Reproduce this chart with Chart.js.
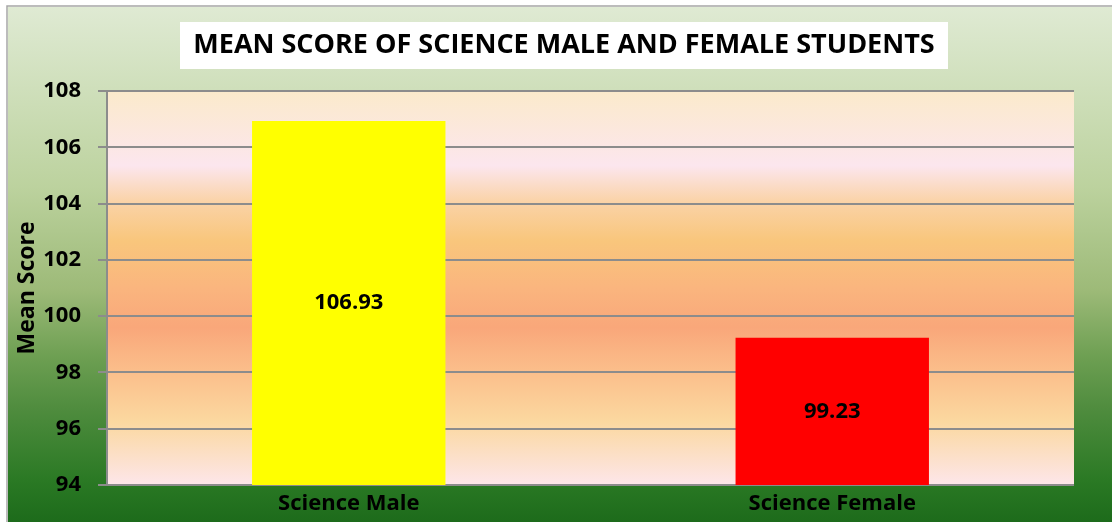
<!DOCTYPE html>
<html>
<head>
<meta charset="utf-8">
<script src="https://cdn.jsdelivr.net/npm/chart.js@4"></script>
<style>
  html, body { margin: 0; padding: 0; background: #fff; }
  #wrap { width: 1112px; height: 522px; position: relative; }
</style>
</head>
<body>
<div id="wrap"><canvas id="meanChart"></canvas></div>
<script>
const categories = ['Science Male', 'Science Female'];
const meanScores = [106.93, 99.23];
const barColors = ['#ffff00', '#ff0000'];
const yTicks = [94, 96, 98, 100, 102, 104, 106, 108];
const chartTitle = 'MEAN SCORE OF SCIENCE MALE AND FEMALE STUDENTS';

const FONT = '"Open Sans"';

// backgrounds: green frame, banded plot area, white box under the title
const backdrop = {
  id: 'backdrop',
  afterLayout(chart) {
    // title sits a bit right of the plot centre
    chart.titleBlock.left += 23;
    chart.titleBlock.right += 23;
  },
  beforeDraw(chart) {
    const {ctx, width, height, chartArea: a} = chart;
    ctx.save();
    let g = ctx.createLinearGradient(0, 7, 0, height);
    g.addColorStop(0, '#dfead3');
    g.addColorStop(0.35, '#bcd29e');
    g.addColorStop(0.55, '#9dba78');
    g.addColorStop(0.68, '#6d9f52');
    g.addColorStop(0.78, '#4f8c3e');
    g.addColorStop(0.92, '#2a7924');
    g.addColorStop(1, '#1d6b1b');
    ctx.fillStyle = g;
    ctx.fillRect(8, 7, width - 8, height - 7);
    ctx.strokeStyle = '#a6a6a6';
    ctx.lineWidth = 1.5;
    ctx.beginPath();
    ctx.moveTo(7, height); ctx.lineTo(7, 6); ctx.lineTo(width, 6);
    ctx.stroke();

    g = ctx.createLinearGradient(0, a.top, 0, a.bottom);
    g.addColorStop(0, '#fbeacb');
    g.addColorStop(0.19, '#fce6ee');
    g.addColorStop(0.28, '#fad3a8');
    g.addColorStop(0.38, '#f9c67c');
    g.addColorStop(0.5, '#fab57e');
    g.addColorStop(0.6, '#f9a77a');
    g.addColorStop(0.72, '#fbc08c');
    g.addColorStop(0.84, '#fbd8a0');
    g.addColorStop(1, '#fde6ea');
    ctx.fillStyle = g;
    ctx.fillRect(a.left, a.top, a.right - a.left, a.bottom - a.top);

    ctx.fillStyle = '#ffffff';
    ctx.fillRect(180, 22, 768, 47);
    ctx.restore();
  }
};

// value written in the middle of each bar
const barValues = {
  id: 'barValues',
  afterDraw(chart) {
    const {ctx} = chart;
    const x = chart.scales.x, y = chart.scales.y;
    ctx.save();
    ctx.font = 'bold 22px ' + FONT;
    ctx.fillStyle = '#000000';
    ctx.textAlign = 'center';
    ctx.textBaseline = 'middle';
    meanScores.forEach((v, i) => {
      const px = x.getPixelForValue(i);
      const py = (y.getPixelForValue(v) + y.getPixelForValue(y.min)) / 2;
      ctx.fillText(v.toFixed(2), px, py);
    });
    ctx.restore();
  }
};

new Chart(document.getElementById('meanChart'), {
  type: 'bar',
  data: {
    labels: categories,
    datasets: [{
      label: 'Mean Score',
      data: meanScores,
      backgroundColor: barColors,
      borderWidth: 0,
      barPercentage: 0.4,
      categoryPercentage: 1
    }]
  },
  options: {
    responsive: true,
    maintainAspectRatio: false,
    animation: false,
    layout: { padding: { left: 8, right: 38, top: 0, bottom: 0 } },
    plugins: {
      legend: { display: false },
      tooltip: { enabled: false },
      title: {
        display: true,
        text: chartTitle,
        color: '#000',
        font: { family: FONT, size: 27, weight: 'bold', lineHeight: 1 },
        padding: { top: 32, bottom: 32 }
      }
    },
    scales: {
      x: {
        grid: { display: false, drawTicks: false },
        border: { display: false },
        ticks: {
          color: '#000',
          padding: 6,
          font: { family: FONT, size: 22, weight: 'bold' }
        },
        afterFit(scale) { scale.height = 37; }
      },
      y: {
        min: 94,
        max: 108,
        afterBuildTicks(scale) { scale.ticks = yTicks.map(v => ({value: v})); },
        grid: { color: '#8c8c8c', lineWidth: 2, tickLength: 9 },
        border: { color: '#8c8c8c', width: 2 },
        ticks: {
          color: '#000',
          padding: 17,
          font: { family: FONT, size: 22, weight: 'bold' }
        },
        title: {
          display: true,
          text: 'Mean Score',
          color: '#000',
          padding: { top: 6, bottom: 0 },
          font: { family: FONT, size: 23, weight: 'bold' }
        },
        afterFit(scale) { scale.width = 99; }
      }
    }
  },
  plugins: [backdrop, barValues]
});
</script>
</body>
</html>
